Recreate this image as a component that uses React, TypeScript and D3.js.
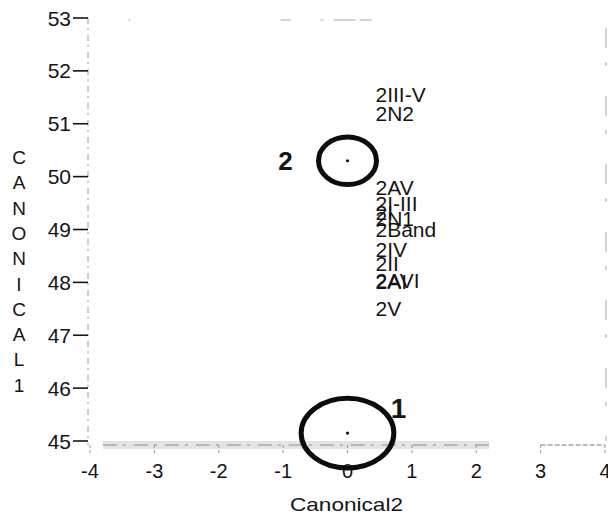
import { useRef, useEffect } from 'react';
import * as d3 from 'd3';

// axis ticks
const xTicks = [-4, -3, -2, -1, 0, 1, 2, 3, 4];
const yTicks = [45, 46, 47, 48, 49, 50, 51, 52, 53];

// group centroids with their circles (radius in data units)
const groupNames = ['1', '2'];
const groupX = [0.0, 0.0];
const groupY = [45.15, 50.3];
const groupRx = [0.72, 0.45];
const groupRy = [0.66, 0.45];

// individual cases of group 2
const caseLabels = ['2III-V', '2N2', '2AV', '2I-III', '2I', '2N1', '2Band', '2IV', '2II', '2AVI', '2AI', '2V'];
const caseX = [0.0, 0.0, 0.0, 0.0, 0.0, 0.0, 0.0, 0.0, 0.0, 0.0, 0.0, 0.0];
const caseY = [51.55, 51.2, 49.8, 49.5, 49.33, 49.2, 49.0, 48.62, 48.36, 48.04, 48.02, 47.5];

const yTitle = 'CANONICAL1';
const xTitle = 'Canonical2';

export default function App() {
  const svgRef = useRef<SVGSVGElement>(null);

  useEffect(() => {
    if (!svgRef.current) return;
    const svg = d3.select(svgRef.current);
    svg.selectAll('*').remove();

    const font = 'Liberation Sans, Arial, sans-serif';
    const ink = '#151515';

    const x = d3.scaleLinear().domain([-4, 4]).range([90, 605]);
    const y = d3.scaleLinear().domain([45, 53]).range([441, 18]);

    const g = svg.append('g').style('font-family', font);

    // faint frame (scanned look)
    g.append('line')
      .attr('x1', x(-4) - 2).attr('x2', x(-4) - 2)
      .attr('y1', y(53)).attr('y2', y(45) + 4)
      .attr('stroke', '#9a9a9a').attr('stroke-width', 1)
      .attr('stroke-dasharray', '6,4,2,5');
    g.append('line')
      .attr('x1', x(-3.8)).attr('x2', x(2.2))
      .attr('y1', y(45) + 4).attr('y2', y(45) + 4)
      .attr('stroke', '#e4e4e4').attr('stroke-width', 8);
    g.append('line')
      .attr('x1', x(-3.8)).attr('x2', x(2.2))
      .attr('y1', y(45) + 4).attr('y2', y(45) + 4)
      .attr('stroke', '#8c8c8c').attr('stroke-width', 1)
      .attr('stroke-dasharray', '14,6,3,8');
    g.append('line')
      .attr('x1', x(3)).attr('x2', x(4))
      .attr('y1', y(45) + 4).attr('y2', y(45) + 4)
      .attr('stroke', '#777').attr('stroke-width', 1.2)
      .attr('stroke-dasharray', '5,2');
    g.append('line')
      .attr('x1', x(-3.4)).attr('x2', x(4))
      .attr('y1', y(53) + 2).attr('y2', y(53) + 2)
      .attr('stroke', '#aaa').attr('stroke-width', 1)
      .attr('stroke-dasharray', '2,150,10,30,3,10,22,4,12,300');
    g.append('line')
      .attr('x1', x(4) + 1).attr('x2', x(4) + 1)
      .attr('y1', y(53) + 10).attr('y2', y(45))
      .attr('stroke', '#c4c4c4').attr('stroke-width', 1.5)
      .attr('stroke-dasharray', '20,14,4,30');

    // y axis ticks
    yTicks.forEach(t => {
      g.append('line')
        .attr('x1', 73).attr('x2', x(-4) - 2)
        .attr('y1', y(t)).attr('y2', y(t))
        .attr('stroke', ink).attr('stroke-width', 1.6);
      g.append('text')
        .attr('x', 71).attr('y', y(t))
        .attr('text-anchor', 'end')
        .attr('dominant-baseline', 'central')
        .attr('font-size', 21)
        .attr('fill', ink)
        .text(t);
    });

    // x axis ticks
    xTicks.forEach(t => {
      g.append('line')
        .attr('x1', x(t)).attr('x2', x(t))
        .attr('y1', y(45) + 4).attr('y2', y(45) + 14)
        .attr('stroke', '#999').attr('stroke-width', 1)
        .attr('stroke-dasharray', '3,2');
      g.append('text')
        .attr('x', x(t)).attr('y', 478)
        .attr('text-anchor', 'middle')
        .attr('font-size', 20)
        .attr('fill', ink)
        .text(t);
    });

    // axis titles
    g.append('text')
      .attr('x', x(0) - 1).attr('y', 511)
      .attr('text-anchor', 'middle')
      .attr('font-size', 19)
      .attr('textLength', 113)
      .attr('lengthAdjust', 'spacingAndGlyphs')
      .attr('fill', ink)
      .text(xTitle);

    const titleG = g.append('text')
      .attr('font-size', 19)
      .attr('fill', ink)
      .attr('text-anchor', 'middle');
    yTitle.split('').forEach((ch, i) => {
      titleG.append('tspan')
        .attr('x', 19)
        .attr('y', 164 + i * 25.3)
        .text(ch);
    });

    // group circles
    groupNames.forEach((name, i) => {
      const cx = x(groupX[i]);
      const cy = y(groupY[i]);
      g.append('ellipse')
        .attr('cx', cx).attr('cy', cy)
        .attr('rx', x(groupRx[i]) - x(0))
        .attr('ry', y(0) - y(groupRy[i]))
        .attr('fill', 'none')
        .attr('stroke', '#0c0c0c')
        .attr('stroke-width', 5);
      g.append('circle')
        .attr('cx', cx).attr('cy', cy)
        .attr('r', 1.6)
        .attr('fill', ink);
    });

    // group numbers
    g.append('text')
      .attr('x', x(groupX[1]) - 62).attr('y', y(groupY[1]))
      .attr('dominant-baseline', 'central')
      .attr('text-anchor', 'middle')
      .attr('font-size', 26).attr('font-weight', 'bold')
      .attr('fill', ink)
      .text(groupNames[1]);
    g.append('text')
      .attr('x', x(groupX[0]) + 51).attr('y', y(groupY[0]) - 25)
      .attr('dominant-baseline', 'central')
      .attr('text-anchor', 'middle')
      .attr('font-size', 28).attr('font-weight', 'bold')
      .attr('fill', ink)
      .text(groupNames[0]);

    // case labels
    caseLabels.forEach((lab, i) => {
      g.append('text')
        .attr('x', x(caseX[i]) + 28)
        .attr('y', y(caseY[i]))
        .attr('dominant-baseline', 'central')
        .attr('font-size', 21)
        .attr('fill', ink)
        .text(lab);
    });
  }, []);

  return (
    <svg ref={svgRef} width={608} height={520} style={{ position: 'absolute', left: 0, top: 0, background: '#fff' }} />
  );
}
